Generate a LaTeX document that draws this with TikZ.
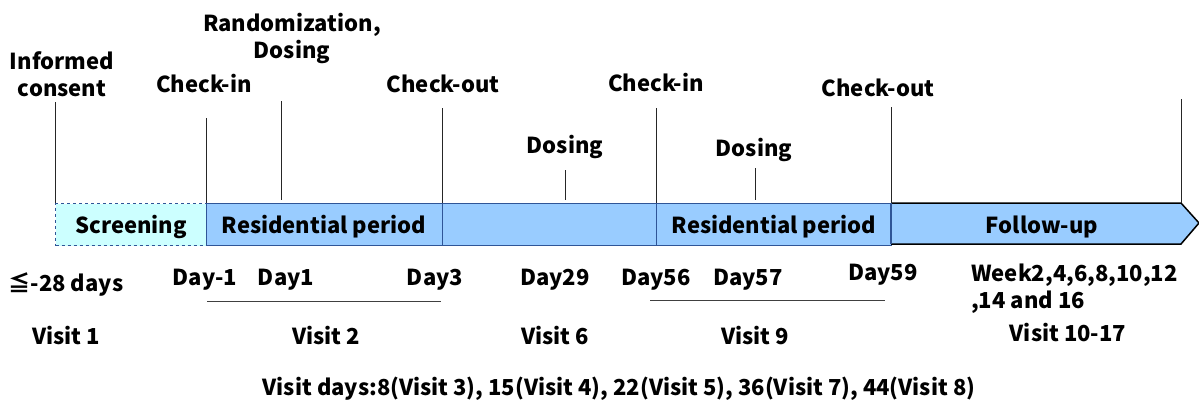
\documentclass[tikz,border=0pt]{standalone}
\usepackage{fontspec}
\setmainfont{Noto Sans CJK JP}
\definecolor{lcyan}{HTML}{CCFFFF}
\definecolor{lblue}{HTML}{99CCFF}
\definecolor{dblue}{HTML}{2F5597}
\begin{document}
\begin{tikzpicture}[x=1pt,y=-1pt,
  lbl/.style={font=\fontsize{22}{27}\selectfont\bfseries, inner sep=0pt, align=center, yshift=-3pt},
  period/.style={draw=dblue, line width=1.2pt, fill=lblue, minimum height=42pt, inner sep=0pt, anchor=north west},
  vline/.style={draw=black!85, line width=1pt},
  uline/.style={draw=black!75, line width=1pt}]
\useasboundingbox (0,0) rectangle (1199,400);
% bar
\node[period, fill=lcyan, dashed, minimum width=151pt] (scr) at (55,203) {};
\node[period, minimum width=236pt] (res1) at (206,203) {};
\node[period, minimum width=214pt] (mid) at (442,203) {};
\node[period, minimum width=235pt] (res2) at (656,203) {};
\coordinate (fa) at (891,203);
\coordinate (fb) at (1181,203);
\coordinate (fc) at (1199,223);
\coordinate (fd) at (1181,244);
\coordinate (fe) at (891,244);
\draw[fill=lblue, line width=1.5pt, line join=miter] (fa) -- (fb) -- (fc) -- (fd) -- (fe);
\draw[draw=dblue, line width=1.2pt] (fa) -- (fe);
\node[lbl] (tscr) at (131,224) {Screening};
\node[lbl] (tres1) at (324,224) {Residential period};
\node[lbl] (tres2) at (774,224) {Residential period};
\node[lbl] (tfu) at (1042,224) {Follow-up};
% top labels
\node[lbl] (ic) at (62,71) {Informed\\consent};
\node[lbl] (ci1) at (204,81) {Check-in};
\node[lbl] (rd) at (292,35) {Randomization,\\Dosing};
\node[lbl] (co1) at (443,81) {Check-out};
\node[lbl] (d1) at (565,144) {Dosing};
\node[lbl] (ci2) at (656,80) {Check-in};
\node[lbl] (d2) at (754,147) {Dosing};
\node[lbl] (co2) at (878,85) {Check-out};
% vertical lines
\coordinate (l1t) at (55,102);
\coordinate (l2t) at (206,118);
\coordinate (l3t) at (281,101);
\coordinate (l3b) at (281,200);
\coordinate (l4t) at (442,108);
\coordinate (l5t) at (565,170);
\coordinate (l5b) at (565,200);
\coordinate (l6t) at (656,108);
\coordinate (l7t) at (755,168);
\coordinate (l7b) at (755,200);
\coordinate (l8t) at (891,107);
\coordinate (l9t) at (1181,99);
\draw[vline] (l1t) -- (scr.north west);
\draw[vline] (l2t) -- (res1.north west);
\draw[vline] (l3t) -- (l3b);
\draw[vline] (l4t) -- (mid.north west);
\draw[vline] (l5t) -- (l5b);
\draw[vline] (l6t) -- (res2.north west);
\draw[vline] (l7t) -- (l7b);
\draw[vline] (l8t) -- (fa);
\draw[vline] (l9t) -- (fb);
% day labels
\node[lbl] (dm28) at (66,281) {≦-28 days};
\node[lbl] (dm1) at (205,277) {Day-1};
\node[lbl] (dy1) at (286,277) {Day1};
\node[lbl] (dy3) at (435,277) {Day3};
\node[lbl] (dy29) at (555,277) {Day29};
\node[lbl] (dy56) at (656,277) {Day56};
\node[lbl] (dy57) at (748,277) {Day57};
\node[lbl] (dy59) at (883,272) {Day59};
\node[lbl, anchor=west, align=left] (wk) at (971,286) {Week2,4,6,8,10,12\\,14 and 16};
\coordinate (u1a) at (207,301);
\coordinate (u1b) at (441,301);
\coordinate (u2a) at (650,300);
\coordinate (u2b) at (885,300);
\draw[uline] (u1a) -- (u1b);
\draw[uline] (u2a) -- (u2b);
% visits
\node[lbl] (v1) at (66,333) {Visit 1};
\node[lbl] (v2) at (326,333) {Visit 2};
\node[lbl] (v6) at (555,333) {Visit 6};
\node[lbl] (v9) at (755,333) {Visit 9};
\node[lbl] (v10) at (1068,330) {Visit 10-17};
\node[lbl] (vd) at (619,386) {Visit days:8(Visit 3), 15(Visit 4), 22(Visit 5), 36(Visit 7), 44(Visit 8)};
\end{tikzpicture}
\end{document}
